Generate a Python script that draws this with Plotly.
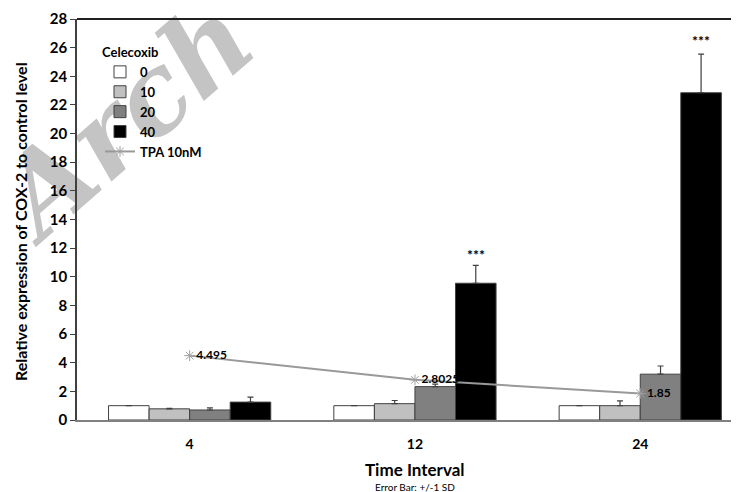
import plotly.graph_objects as go

categories = ["4", "12", "24"]
doses = ["0", "10", "20", "40"]
values = {
    "0":  [1.0, 1.0, 1.0],
    "10": [0.78, 1.14, 1.0],
    "20": [0.7, 2.33, 3.2],
    "40": [1.25, 9.55, 22.85],
}
errors = {
    "0":  [0.0, 0.0, 0.0],
    "10": [0.03, 0.22, 0.33],
    "20": [0.15, 0.18, 0.57],
    "40": [0.35, 1.25, 2.7],
}
tpa_values = [4.495, 2.8025, 1.85]
tpa_labels = ["4.495", "2.8025", "1.85"]
star_heights = [None, 11.55, 26.5]

colors = {"0": "#ffffff", "10": "#c0c0c0", "20": "#808080", "40": "#000000"}
FONT = "Lato"

# page body has an 8px offset; figure is sized so the plot lands where the reference has it
OFF = 8
W, H = 739 - OFF, 492 - OFF
L, T, B = 77 - OFF, 19 - OFF, 492 - 420
PW, PH = W - L, H - T - B


def px(xp):
    return (xp - 77) / PW


def py(yp):
    return 1 - (yp - 19) / PH


xpos = list(range(len(categories)))
fig = go.Figure()
for d in doses:
    fig.add_trace(go.Bar(
        x=xpos, y=values[d], name=d,
        marker=dict(color=colors[d], line=dict(color="#404040", width=1)),
        error_y=dict(type="data", array=errors[d], arrayminus=[0]*3, symmetric=False,
                     color="#404040", thickness=1.2, width=3, visible=True),
    ))

fig.add_trace(go.Scatter(
    x=xpos, y=tpa_values, name="TPA 10nM", mode="lines+markers+text",
    line=dict(color="#999999", width=2),
    marker=dict(symbol="asterisk-open", size=9, color="#a0a0a0", line=dict(color="#a0a0a0", width=1)),
    text=["<b>%s</b>" % t for t in tpa_labels], textposition="middle right",
    textfont=dict(family=FONT, size=12, color="#000000"),
))

# watermark, drawn below everything else as a shape label
fig.add_shape(type="rect", xref="paper", yref="paper", layer="below",
              x0=px(20), x1=px(224), y0=py(190), y1=py(34),
              line=dict(width=0), fillcolor="rgba(0,0,0,0)",
              label=dict(text="<i><b>Arch</b></i>", textangle=-41, textposition="middle center",
                         font=dict(family="DejaVu Serif", size=110, color="#c4c4c4")))

# significance stars above the 40 bars
for i, h in enumerate(star_heights):
    if h is not None:
        fig.add_annotation(x=xpos[i] + 0.27, y=h, text="<b>***</b>", showarrow=False,
                           font=dict(family=FONT, size=14, color="#000"), xref="x", yref="y")

fig.update_layout(
    width=W, height=H,
    margin=dict(l=L, r=0, t=T, b=B),
    paper_bgcolor="white", plot_bgcolor="rgba(0,0,0,0)",
    barmode="group", bargap=0.28, bargroupgap=0,
    font=dict(family=FONT, color="#000"),
    legend=dict(
        x=px(100), y=py(40), xanchor="left", yanchor="top",
        title=dict(text="<b>Celecoxib</b>", font=dict(family=FONT, size=13)),
        font=dict(family=FONT, size=13, weight="bold"),
        bgcolor="rgba(0,0,0,0)", tracegroupgap=0, itemwidth=30,
    ),
    showlegend=True,
)
fig.update_xaxes(
    range=[-0.5, -0.5 + PW / 225.3], tickvals=xpos, ticktext=categories,
    tickfont=dict(family=FONT, size=14, weight="bold"), ticks="", showline=True,
    linecolor="#808080", linewidth=2, showgrid=False, zeroline=False, ticklabelstandoff=10,
)
fig.update_yaxes(
    range=[0, 28], dtick=2, ticks="outside", ticklen=5, tickcolor="#404040",
    tickfont=dict(family=FONT, size=15, weight="bold"), showline=True,
    linecolor="#404040", linewidth=1.5, showgrid=False, zeroline=False,
)
# top frame line
fig.add_shape(type="line", xref="paper", yref="paper", x0=0, x1=1, y0=1, y1=1,
              line=dict(color="#202020", width=2))

fig.add_annotation(text="<b>Relative expression of COX-2 to control level</b>", textangle=-90,
                   xref="paper", yref="paper", x=px(20), y=py(222), xanchor="center", yanchor="middle",
                   showarrow=False, font=dict(family=FONT, size=16, color="#000"))
fig.add_annotation(text="<b>Time Interval</b>", xref="paper", yref="paper",
                   x=px(415), y=py(469), xanchor="center", yanchor="middle", showarrow=False,
                   font=dict(family=FONT, size=17, color="#000"))
fig.add_annotation(text="Error Bar: +/-1 SD", xref="paper", yref="paper",
                   x=px(415), y=py(487), xanchor="center", yanchor="middle", showarrow=False,
                   font=dict(family=FONT, size=10, color="#000"))

fig.write_html("out.html")
